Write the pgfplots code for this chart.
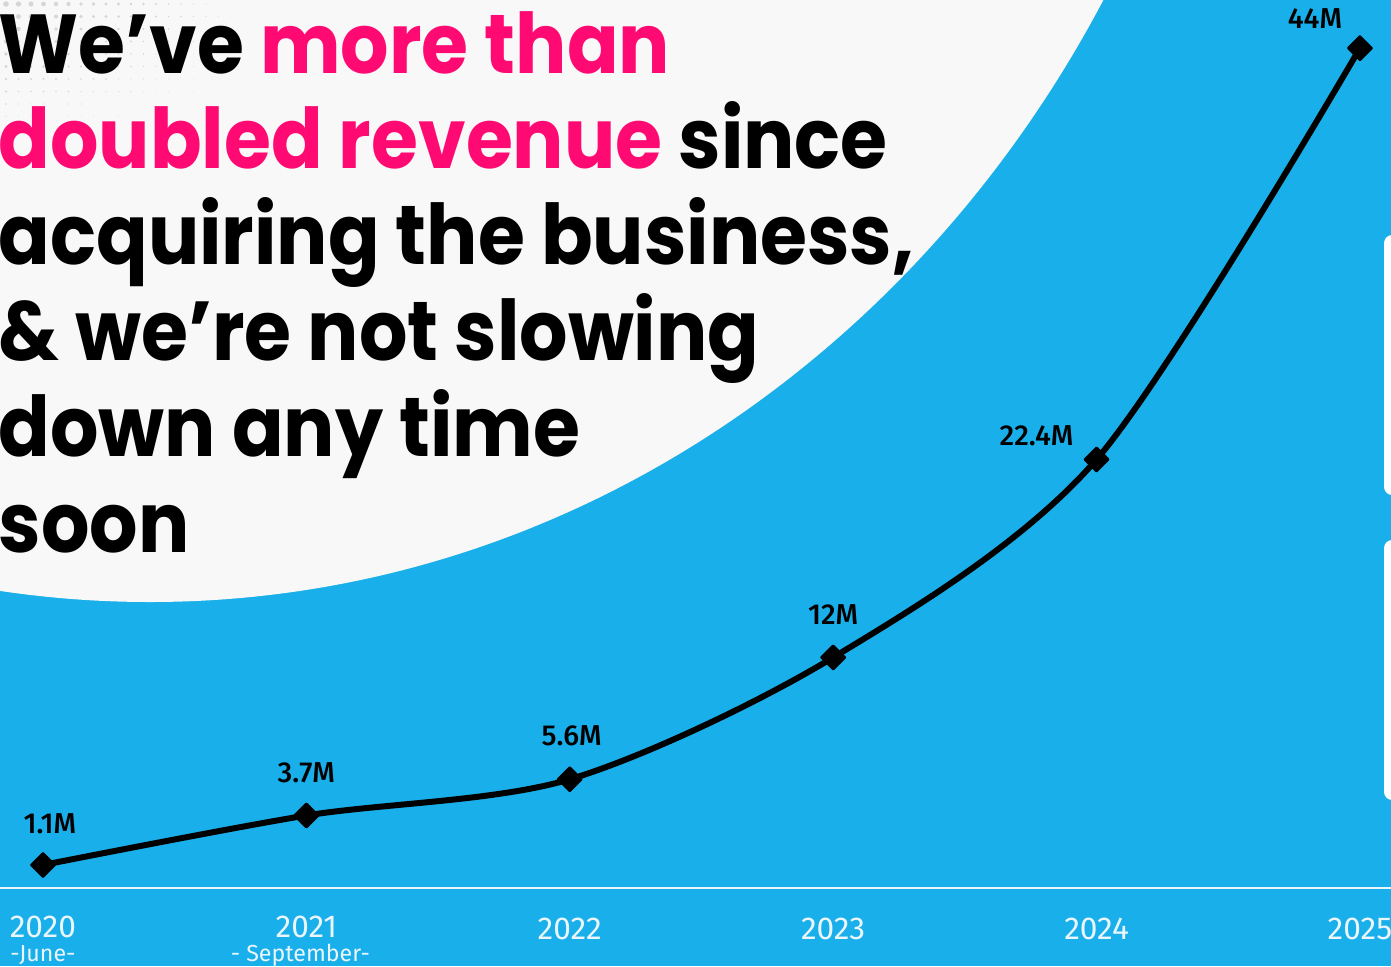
\documentclass[border=0pt]{standalone}
\usepackage{fontspec}
\setmainfont{Poppins}[FakeStretch=0.91]
\newfontfamily\labelfont{Fira Sans}[UprightFont={* Medium}]
\newfontfamily\tickfont{Fira Sans}
\usepackage{pgfplots}
\pgfplotsset{compat=1.18}
\definecolor{bgblue}{HTML}{19AFEA}
\definecolor{offwhite}{HTML}{F8F8F8}
\definecolor{hotpink}{HTML}{FF0A73}
\definecolor{dotgray}{HTML}{D6D6D6}
\definecolor{ticktext}{HTML}{EAF6FC}
\tikzset{
  lab/.style={font=\labelfont\fontsize{8.2}{10}\selectfont, text=black, inner sep=0pt, anchor=center},
  tk/.style={font=\tickfont\fontsize{9}{10}\selectfont, text=ticktext, inner sep=0pt, anchor=center},
  tks/.style={font=\tickfont\fontsize{6.6}{7}\selectfont, text=ticktext, inner sep=0pt, anchor=center}}
\begin{document}
\begin{tikzpicture}
\begin{scope}[x=0.1mm,y=-0.1mm,yshift=9.66cm]
  \fill[bgblue] (0,0) rectangle (1391,966);
  \begin{scope}
    \clip (0,0) rectangle (1391,966);
    \fill[offwhite] (150,-600) ellipse [x radius=1100, y radius=1202];
  \end{scope}
  \foreach \i in {0,...,19}{
    \foreach \j in {0,...,9}{
      \pgfmathsetmacro\r{2.8*(1-\i/20)*(1-\j/11)}
      \fill[dotgray] (6+12.5*\i, 4+12.5*\j) circle[radius=\r];
    }
  }
  \fill[white, rounded corners=2.3pt] (1384,235) rectangle (1420,495);
  \fill[white, rounded corners=2.3pt] (1384,540) rectangle (1420,800);
  \begin{scope}[every node/.style={anchor=base west, inner sep=0pt, font=\fontsize{23.8}{27}\selectfont\bfseries}]
    \node at (-2,73) {We’ve \textcolor{hotpink}{more than}};
    \node at (-2,168) {\textcolor{hotpink}{doubled revenue} since};
    \node at (-2,264) {acquiring the business,};
    \node at (-2,360) {\& we’re not slowing};
    \node at (-2,456) {down any time};
    \node at (-2,552) {soon};
  \end{scope}
\end{scope}
\begin{axis}[at={(0,0)}, anchor=south west, width=13.91cm, height=9.66cm, scale only axis,
  xmin=2019.837, xmax=2025.118, ymin=-4.205, ymax=46.53, axis lines=none, clip=false]
  \draw[ticktext, line width=0.57pt] (axis cs:2019.837,-0.1) -- (axis cs:2025.118,-0.1);
  \addplot[black, line width=1.7pt, smooth, mark=square*, mark size=2.4pt,
    mark options={rotate=45, line width=0.6pt, line join=round}]
    coordinates {(2020,1.1) (2021,3.7) (2022,5.6) (2023,12) (2024,22.4) (2025,44)};
  \node[lab, xshift=0.7mm, yshift=4.1mm] at (axis cs:2020,1.1) {1.1M};
  \node[lab, yshift=4.3mm] at (axis cs:2021,3.7) {3.7M};
  \node[lab, xshift=0.2mm, yshift=4.4mm] at (axis cs:2022,5.6) {5.6M};
  \node[lab, yshift=4.3mm] at (axis cs:2023,12) {12M};
  \node[lab, xshift=-6mm, yshift=2.4mm] at (axis cs:2024,22.4) {22.4M};
  \node[lab, xshift=-4.5mm, yshift=3mm] at (axis cs:2025,44) {44M};
  \node[tk, yshift=-3.95mm] at (axis cs:2020,-0.1) {2020};
  \node[tk, yshift=-3.95mm] at (axis cs:2021,-0.1) {2021};
  \node[tk, yshift=-4.1mm] at (axis cs:2022,-0.1) {2022};
  \node[tk, yshift=-4.1mm] at (axis cs:2023,-0.1) {2023};
  \node[tk, yshift=-4.1mm] at (axis cs:2024,-0.1) {2024};
  \node[tk, yshift=-4.1mm] at (axis cs:2025,-0.1) {2025};
  \node[tks, yshift=-6.75mm] at (axis cs:2020,-0.1) {-June-};
  \node[tks, xshift=-0.6mm, yshift=-6.75mm] at (axis cs:2021,-0.1) {- September-};
\end{axis}
\pgfresetboundingbox
\path (0,0) rectangle (13.91cm,9.66cm);
\end{tikzpicture}
\end{document}
